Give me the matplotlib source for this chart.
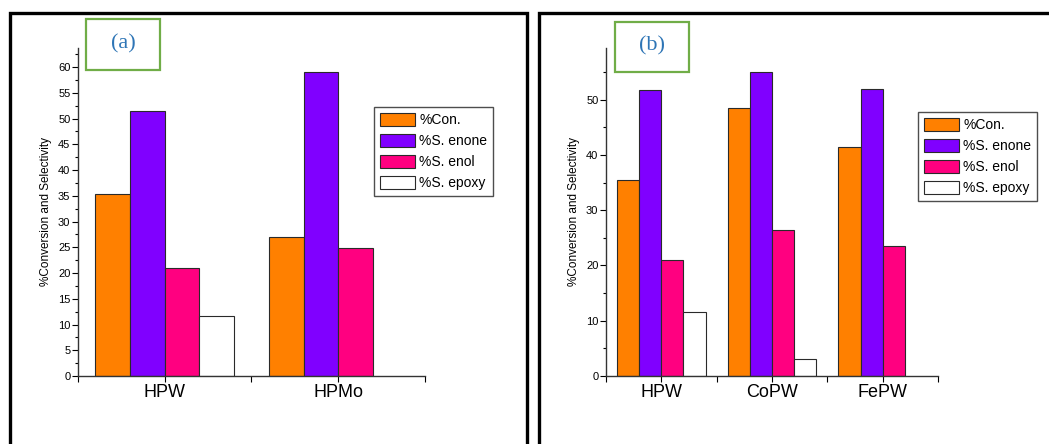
import matplotlib
matplotlib.use("Agg")
import matplotlib.pyplot as plt
import matplotlib.patches as patches
import numpy as np

plt.rcParams['font.family'] = ['Liberation Sans', 'DejaVu Sans']

series = ['%Con.', '%S. enone', '%S. enol', '%S. epoxy']
colors = ['#FF8000', '#8000FF', '#FF0080', '#FFFFFF']

cats_a = ['HPW', 'HPMo']
vals_a = {
    '%Con.': [35.3, 26.9],
    '%S. enone': [51.5, 59.1],
    '%S. enol': [20.9, 24.8],
    '%S. epoxy': [11.6, 0.0],
}

cats_b = ['HPW', 'CoPW', 'FePW']
vals_b = {
    '%Con.': [35.4, 48.4, 41.5],
    '%S. enone': [51.7, 55.0, 52.0],
    '%S. enol': [20.9, 26.5, 23.6],
    '%S. epoxy': [11.6, 3.0, 0.0],
}

W, H = 1049, 444
fig = plt.figure(figsize=(W / 100, H / 100), dpi=100)


def fx(px):
    return px / W


def fy(py):
    return 1 - py / H


def draw_panel(ax, cats, vals, ymax, major, minor):
    x = np.arange(len(cats)) + 0.5
    bw = 0.2
    for i, s in enumerate(series):
        v = np.array(vals[s])
        keep = v > 0
        ax.bar(x[keep] - 0.3 + i * bw, v[keep], width=bw, color=colors[i],
               edgecolor='#2a2a2a', linewidth=0.8, label=s, align='center')
    ax.set_xlim(0, len(cats))
    ax.set_ylim(0, ymax)
    ax.set_xticks(x)
    ax.set_xticklabels(cats, fontsize=13)
    ax.set_xticks(np.arange(len(cats) + 1), minor=True)
    ax.set_yticks(np.arange(0, ymax, major))
    ax.set_yticks(np.arange(0, ymax, minor), minor=True)
    ax.tick_params(axis='y', which='major', labelsize=8, length=4, width=0.8, pad=1.5)
    ax.tick_params(axis='y', which='minor', length=2.5, width=0.8)
    ax.tick_params(axis='x', which='both', length=4, width=0.8, pad=2)
    for sp in ['top', 'right']:
        ax.spines[sp].set_visible(False)
    for sp in ['left', 'bottom']:
        ax.spines[sp].set_linewidth(1.0)
        ax.spines[sp].set_color('#333333')
    ax.set_ylabel('%Conversion and Selectivity', fontsize=8.5, labelpad=4)


def add_legend(ax, x0, y0):
    leg = ax.legend(loc='upper left', bbox_to_anchor=(fx(x0), fy(y0)),
                    bbox_transform=fig.transFigure, fontsize=10, frameon=True,
                    fancybox=False, edgecolor='#222222', borderaxespad=0,
                    handlelength=2.5, handleheight=1.0, labelspacing=0.5,
                    handletextpad=0.3, borderpad=0.45)
    leg.get_frame().set_linewidth(1.0)


# panel (a)
ax1 = fig.add_axes([fx(78), fy(376), fx(425 - 78), (376 - 48) / H])
draw_panel(ax1, cats_a, vals_a, 63.7, 5, 2.5)
add_legend(ax1, 374, 107)

# panel (b)
ax2 = fig.add_axes([fx(606), fy(376), fx(938 - 606), (376 - 47.7) / H])
draw_panel(ax2, cats_b, vals_b, 59.4, 10, 5)
add_legend(ax2, 918, 112)

# outer black frames
fig.add_artist(patches.Rectangle((fx(10), -0.05), fx(517), fy(13) + 0.05,
                                 transform=fig.transFigure, fill=False,
                                 edgecolor='black', linewidth=2.4, clip_on=False))
fig.add_artist(patches.Rectangle((fx(539), -0.05), fx(530), fy(13) + 0.05,
                                 transform=fig.transFigure, fill=False,
                                 edgecolor='black', linewidth=2.4, clip_on=False))

# green label boxes
for (x0, y0, x1, y1, lab) in [(86, 19, 160, 70, '(a)'), (615, 22, 689, 72, '(b)')]:
    fig.add_artist(patches.Rectangle((fx(x0), fy(y1)), fx(x1 - x0), (y1 - y0) / H,
                                     transform=fig.transFigure, fill=False,
                                     edgecolor='#70AD47', linewidth=1.6))
    fig.text(fx((x0 + x1) / 2), fy((y0 + y1) / 2 - 1), lab, ha='center', va='center',
             fontsize=16, color='#2E75B6', family=['Liberation Serif', 'DejaVu Serif'])

fig.savefig('out.png', dpi=100, facecolor='white')
